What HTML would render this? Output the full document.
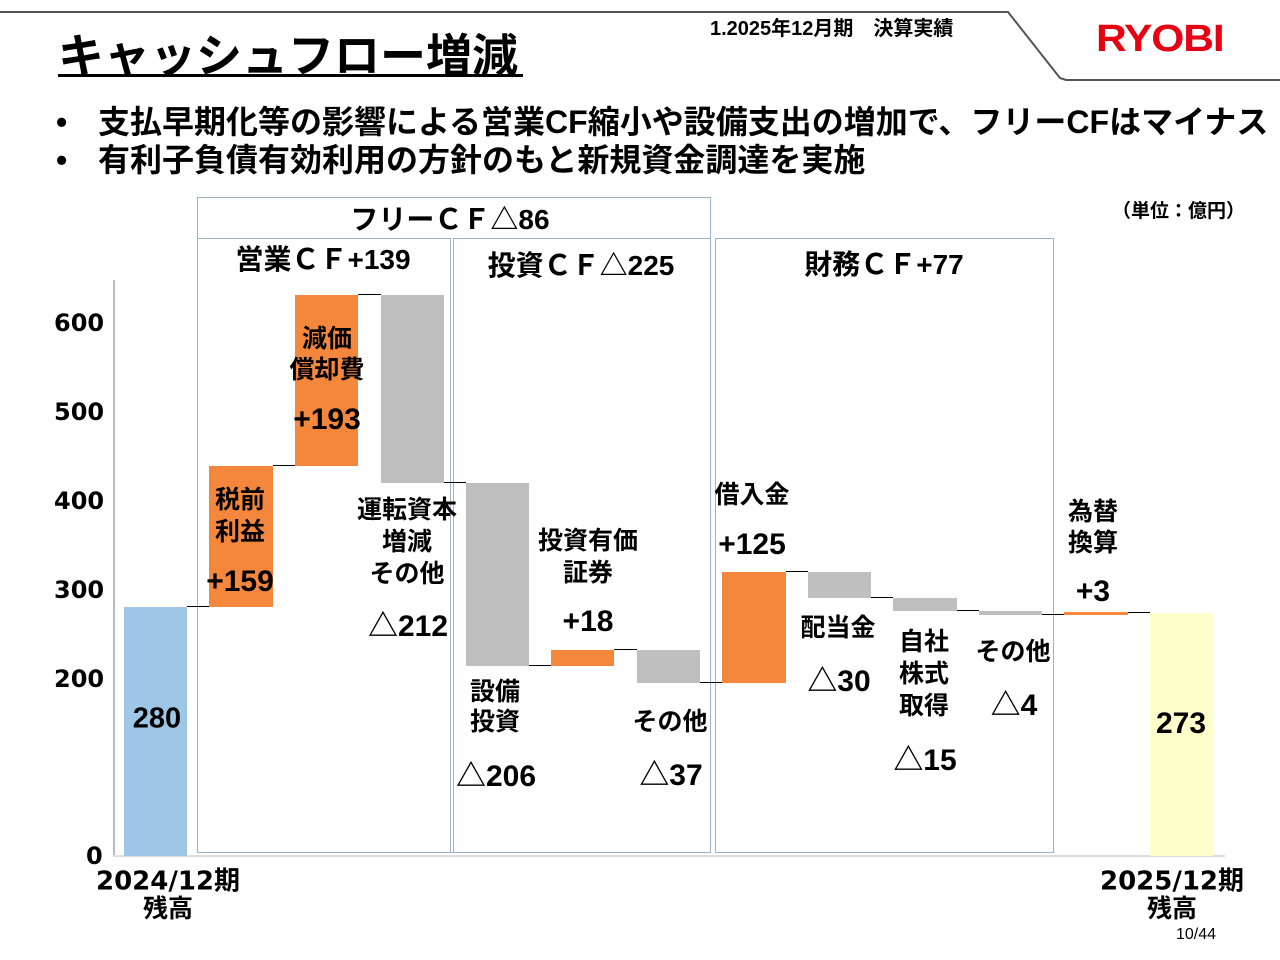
<!DOCTYPE html>
<html><head><meta charset="utf-8"><style>
body{margin:0;width:1280px;height:960px;background:#fff;position:relative;overflow:hidden;font-family:"Liberation Sans","Noto Sans CJK JP",sans-serif;}
.a{position:absolute;}
.t{position:absolute;transform:translate(-50%,-50%);white-space:nowrap;font-weight:bold;color:#000;}
.j{font-size:25px;}
.n{font-size:30px;}
.bar{position:absolute;}
.or{background:#f5873d;}
.gr{background:#bfbfbf;}
.ln{position:absolute;height:1px;background:#000;}
.box{position:absolute;border:1px solid #9ab3c9;box-sizing:border-box;}
.ax{position:absolute;font-family:"DejaVu Sans",sans-serif;font-weight:bold;font-size:24px;transform:translateY(-50%);}
</style></head><body>
<svg class="a" style="left:0;top:0" width="1280" height="90">
<polyline points="0,12 1008,12 1060,78 1066,80 1280,80" fill="none" stroke="#555" stroke-width="2"/>
</svg>
<div class="a" style="left:58px;top:20px;font-size:46px;font-weight:bold;white-space:nowrap">キャッシュフロー増減</div>
<div class="a" style="left:58px;top:74px;width:465px;height:3px;background:#000"></div>
<div class="a" style="left:710px;top:12px;font-size:20px;font-weight:bold;white-space:nowrap">1.2025年12月期　決算実績</div>
<div class="a" style="left:1096px;top:18px;font-size:38px;font-weight:bold;color:#e60012;letter-spacing:-1px;transform:scaleX(1.12);transform-origin:left">RYOBI</div>
<div class="a" style="left:56px;top:97px;font-size:32px;font-weight:bold;white-space:nowrap"><span style="display:inline-block;width:42px">•</span>支払早期化等の影響による営業CF縮小や設備支出の増加で、フリーCFはマイナス</div>
<div class="a" style="left:56px;top:135px;font-size:32px;font-weight:bold;white-space:nowrap"><span style="display:inline-block;width:42px">•</span>有利子負債有効利用の方針のもと新規資金調達を実施</div>
<div class="a" style="left:1112px;top:196px;font-size:19px;font-weight:bold">（単位：億円）</div>

<!-- boxes -->
<div class="box" style="left:197px;top:197px;width:514px;height:656px"></div>
<div class="box" style="left:197px;top:238px;width:254px;height:615px"></div>
<div class="box" style="left:453px;top:238px;width:258px;height:615px"></div>
<div class="box" style="left:715px;top:238px;width:339px;height:615px"></div>
<div class="t" style="left:450px;top:218px;font-size:28px">フリーＣＦ△86</div>
<div class="t" style="left:323px;top:258px;font-size:28px">営業ＣＦ+139</div>
<div class="t" style="left:581px;top:264px;font-size:28px">投資ＣＦ△225</div>
<div class="t" style="left:884px;top:263px;font-size:28px">財務ＣＦ+77</div>

<!-- axes -->
<div class="a" style="left:113px;top:280px;width:2px;height:577px;background:#bbb"></div>
<div class="a" style="left:113px;top:855px;width:1112px;height:2px;background:#ddd"></div>
<div class="ax" style="left:54px;top:323px">600</div>
<div class="ax" style="left:54px;top:412px">500</div>
<div class="ax" style="left:54px;top:501px">400</div>
<div class="ax" style="left:54px;top:590px">300</div>
<div class="ax" style="left:54px;top:679px">200</div>
<div class="ax" style="left:86px;top:856px">0</div>
<div class="t" style="left:168px;top:879px;font-family:'DejaVu Sans','Noto Sans CJK JP',sans-serif;font-size:26px">2024/12期</div>
<div class="t" style="left:168px;top:907px;font-size:25px">残高</div>
<div class="t" style="left:1172px;top:879px;font-family:'DejaVu Sans','Noto Sans CJK JP',sans-serif;font-size:26px">2025/12期</div>
<div class="t" style="left:1172px;top:907px;font-size:25px">残高</div>
<div class="a" style="left:1176px;top:926px;font-size:16px">10/44</div>

<!-- bars -->
<div class="bar" style="left:124px;top:607px;width:63px;height:249px;background:#9dc7e5"></div>
<div class="bar or" style="left:209px;top:466px;width:64px;height:141px"></div>
<div class="bar or" style="left:295px;top:295px;width:63px;height:171px"></div>
<div class="bar gr" style="left:381px;top:295px;width:63px;height:188px"></div>
<div class="bar gr" style="left:466px;top:483px;width:63px;height:183px"></div>
<div class="bar or" style="left:551px;top:650px;width:63px;height:16px"></div>
<div class="bar gr" style="left:637px;top:650px;width:63px;height:33px"></div>
<div class="bar or" style="left:722px;top:572px;width:64px;height:111px"></div>
<div class="bar gr" style="left:808px;top:572px;width:63px;height:26px"></div>
<div class="bar gr" style="left:893px;top:598px;width:64px;height:13px"></div>
<div class="bar gr" style="left:979px;top:611px;width:63px;height:4px"></div>
<div class="bar or" style="left:1064px;top:612px;width:64px;height:3px"></div>
<div class="bar" style="left:1150px;top:613px;width:63px;height:243px;background:#ffffcc"></div>

<!-- connectors -->
<div class="ln" style="left:187px;top:606px;width:22px"></div>
<div class="ln" style="left:273px;top:465px;width:22px"></div>
<div class="ln" style="left:358px;top:294px;width:23px"></div>
<div class="ln" style="left:444px;top:482px;width:22px"></div>
<div class="ln" style="left:529px;top:665px;width:22px"></div>
<div class="ln" style="left:614px;top:649px;width:23px"></div>
<div class="ln" style="left:700px;top:682px;width:22px"></div>
<div class="ln" style="left:786px;top:571px;width:22px"></div>
<div class="ln" style="left:871px;top:597px;width:22px"></div>
<div class="ln" style="left:957px;top:610px;width:22px"></div>
<div class="ln" style="left:1042px;top:614px;width:22px"></div>
<div class="ln" style="left:1128px;top:612px;width:22px"></div>

<!-- labels -->
<div class="t n" style="left:157px;top:719px;font-size:29px">280</div>
<div class="t j" style="left:240px;top:498px">税前</div>
<div class="t j" style="left:240px;top:530px">利益</div>
<div class="t n" style="left:240px;top:582px">+159</div>
<div class="t j" style="left:327px;top:337px">減価</div>
<div class="t j" style="left:327px;top:368px">償却費</div>
<div class="t n" style="left:327px;top:420px">+193</div>
<div class="t j" style="left:407px;top:508px">運転資本</div>
<div class="t j" style="left:407px;top:540px">増減</div>
<div class="t j" style="left:407px;top:572px">その他</div>
<div class="t n" style="left:408px;top:623px">△212</div>
<div class="t j" style="left:495px;top:690px">設備</div>
<div class="t j" style="left:495px;top:720px">投資</div>
<div class="t n" style="left:496px;top:773px">△206</div>
<div class="t j" style="left:588px;top:539px">投資有価</div>
<div class="t j" style="left:588px;top:571px">証券</div>
<div class="t n" style="left:588px;top:622px">+18</div>
<div class="t j" style="left:670px;top:720px">その他</div>
<div class="t n" style="left:671px;top:772px">△37</div>
<div class="t j" style="left:752px;top:493px">借入金</div>
<div class="t n" style="left:752px;top:545px">+125</div>
<div class="t j" style="left:838px;top:626px">配当金</div>
<div class="t n" style="left:839px;top:678px">△30</div>
<div class="t j" style="left:924px;top:640px">自社</div>
<div class="t j" style="left:924px;top:672px">株式</div>
<div class="t j" style="left:924px;top:704px">取得</div>
<div class="t n" style="left:925px;top:757px">△15</div>
<div class="t j" style="left:1013px;top:650px">その他</div>
<div class="t n" style="left:1014px;top:702px">△4</div>
<div class="t j" style="left:1093px;top:510px">為替</div>
<div class="t j" style="left:1093px;top:541px">換算</div>
<div class="t n" style="left:1093px;top:592px">+3</div>
<div class="t n" style="left:1181px;top:724px">273</div>
</body></html>
